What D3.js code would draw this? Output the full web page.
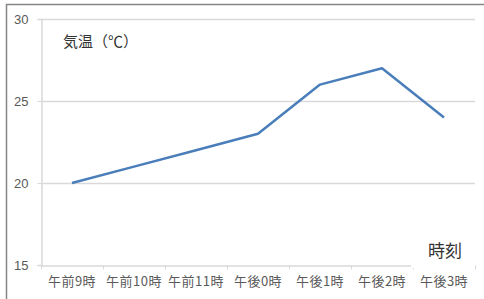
<!DOCTYPE html>
<html>
<head>
<meta charset="utf-8">
<script src="https://cdn.jsdelivr.net/npm/d3@7"></script>
<style>
  body { margin: 0; background: #fff; }
  text { font-family: "Noto Sans CJK JP", "Liberation Sans", sans-serif; }
</style>
</head>
<body>
<div id="chart"></div>
<script>
// data
const hours = ["午前9時", "午前10時", "午前11時", "午後0時", "午後1時", "午後2時", "午後3時"];
const temps = [20, 21, 22, 23, 26, 27, 24];
const yTicks = [15, 20, 25, 30];

const width = 484;
const height = 299;
const margin = { top: 19, right: 10, bottom: 34, left: 41 };

const svg = d3.select("#chart").append("svg")
  .attr("width", width)
  .attr("height", height);

// outer frame (cut off at right / bottom)
svg.append("rect")
  .attr("x", 6.5).attr("y", 4.5)
  .attr("width", 500).attr("height", 320)
  .attr("fill", "none")
  .attr("stroke", "#868686")
  .attr("stroke-width", 1.5);

const x = d3.scaleBand()
  .domain(hours)
  .range([margin.left, 475])
  .padding(0);

const y = d3.scaleLinear()
  .domain([15, 30])
  .range([265, margin.top]);

// gridlines
svg.append("g")
  .selectAll("line")
  .data(yTicks.slice(1))
  .enter().append("line")
  .attr("x1", margin.left)
  .attr("x2", 475)
  .attr("y1", d => Math.round(y(d)) + 0.5)
  .attr("y2", d => Math.round(y(d)) + 0.5)
  .attr("stroke", "#d9d9d9")
  .attr("stroke-width", 1.5);

// y axis
const yAxis = svg.append("g")
  .attr("transform", `translate(${margin.left + 0.5},0)`)
  .call(d3.axisLeft(y).tickValues(yTicks).tickSize(4).tickPadding(9));
yAxis.select(".domain").attr("stroke", "#d9d9d9").attr("stroke-width", 1.5);
yAxis.selectAll(".tick line").attr("stroke", "#d9d9d9");
yAxis.selectAll("text")
  .attr("fill", "#595959")
  .attr("font-size", 13)
  .style("font-family", "'Liberation Sans', sans-serif");

// x axis
const xAxis = svg.append("g")
  .attr("transform", `translate(0,${Math.round(y(15)) + 0.5})`)
  .call(d3.axisBottom(x).tickSize(0).tickPadding(11));
xAxis.select(".domain").attr("stroke", "#d9d9d9").attr("stroke-width", 1.5);
xAxis.selectAll("text")
  .attr("fill", "#595959")
  .attr("font-size", 13)
  .attr("letter-spacing", 0.5);

// category boundary ticks
xAxis.append("g")
  .selectAll("line")
  .data(hours.concat([null]))
  .enter().append("line")
  .attr("x1", (d, i) => Math.round(margin.left + i * x.bandwidth()) + 0.5)
  .attr("x2", (d, i) => Math.round(margin.left + i * x.bandwidth()) + 0.5)
  .attr("y1", 0)
  .attr("y2", 4)
  .attr("stroke", "#d9d9d9");

// line
const line = d3.line()
  .x((d, i) => x(hours[i]) + x.bandwidth() / 2)
  .y(d => y(d));

svg.append("path")
  .datum(temps)
  .attr("fill", "none")
  .attr("stroke", "#4a7ebb")
  .attr("stroke-width", 2.5)
  .attr("stroke-linejoin", "round")
  .attr("d", line);

// y axis title
svg.append("text")
  .attr("x", 63)
  .attr("y", 47)
  .attr("font-size", 15)
  .attr("fill", "#333")
  .text("気温（℃）");

// x axis title with white box covering axis end
svg.append("rect")
  .attr("x", 411).attr("y", 236)
  .attr("width", 64).attr("height", 32)
  .attr("fill", "#fff");
svg.append("text")
  .attr("x", 428)
  .attr("y", 257)
  .attr("font-size", 17)
  .attr("fill", "#333")
  .text("時刻");
</script>
</body>
</html>
